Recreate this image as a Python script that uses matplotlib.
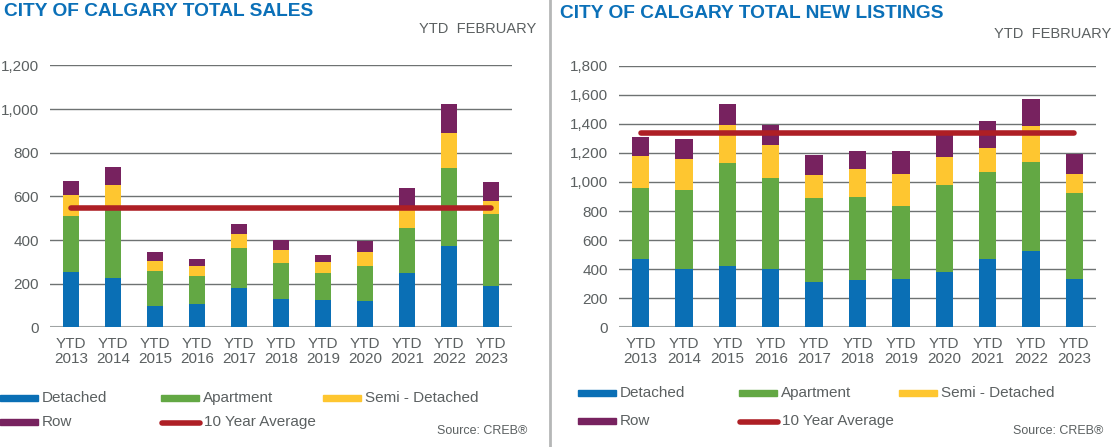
import numpy as np
import matplotlib.pyplot as plt
from matplotlib.patches import Rectangle
from matplotlib.lines import Line2D

plt.rcParams['font.family'] = ['Liberation Sans', 'DejaVu Sans']

years = ['2013', '2014', '2015', '2016', '2017', '2018', '2019', '2020', '2021', '2022', '2023']
xlabels = ['YTD\n' + y for y in years]

# Total sales (YTD February), stacked components
sales_detached = [255, 225, 99, 107, 180, 128, 125, 121, 248, 374, 189]
sales_apartment = [255, 313, 161, 128, 185, 168, 125, 162, 209, 354, 328]
sales_semi = [97, 114, 45, 46, 62, 59, 51, 61, 88, 163, 61]
sales_row = [64, 82, 39, 32, 47, 45, 32, 53, 93, 132, 87]
sales_avg = 546

# Total new listings (YTD February)
list_detached = [470, 404, 424, 399, 314, 326, 335, 383, 470, 528, 331]
list_apartment = [489, 542, 708, 629, 576, 574, 500, 597, 600, 606, 596]
list_semi = [221, 215, 259, 225, 157, 186, 221, 191, 167, 252, 131]
list_row = [128, 134, 147, 142, 140, 130, 160, 159, 182, 186, 135]
list_avg = 1336

C_DET = '#0a6fb5'
C_APT = '#63a844'
C_SEMI = '#fec630'
C_ROW = '#77225f'
C_AVG = '#ae1f25'
C_TXT = '#5b6061'
C_TITLE = '#0b70b8'
C_GRID = '#6e7272'

W, H = 1118, 447
fig = plt.figure(figsize=(W / 100, H / 100), dpi=100)


def box(l, t, r, b):
    return [l / W, 1 - b / H, (r - l) / W, (b - t) / H]


def fx(px):
    return px / W


def fy(py):
    return 1 - py / H


def panel(rect, det, apt, semi, row, avg, ymax, step):
    ax = fig.add_axes(rect)
    x = np.arange(len(years))
    det = np.array(det)
    apt = np.array(apt)
    semi = np.array(semi)
    row = np.array(row)
    w = 0.4
    ax.bar(x, det, w, color=C_DET, zorder=2)
    ax.bar(x, apt, w, bottom=det, color=C_APT, zorder=2)
    ax.bar(x, semi, w, bottom=det + apt, color=C_SEMI, zorder=2)
    ax.bar(x, row, w, bottom=det + apt + semi, color=C_ROW, zorder=2)
    ax.plot([x[0], x[-1]], [avg, avg], color=C_AVG, lw=4, solid_capstyle='round', zorder=3)
    ax.set_xlim(-0.5, len(years) - 0.5)
    ax.set_ylim(0, ymax)
    ticks = np.arange(0, ymax + 1, step)
    ax.set_yticks(ticks)
    ax.set_yticklabels([f'{t:,}' for t in ticks])
    ax.set_xticks(x)
    ax.set_xticklabels(xlabels, linespacing=1.1)
    ax.tick_params(axis='both', length=0, labelsize=11, colors=C_TXT)
    ax.tick_params(axis='y', pad=8)
    ax.tick_params(axis='x', pad=7)
    for s in ax.spines.values():
        s.set_visible(False)
    ax.yaxis.grid(True, color=C_GRID, lw=1)
    ax.set_axisbelow(True)
    ax.axhline(0, color='#a0a4a4', lw=1.5, zorder=1)
    ax.patch.set_alpha(0)
    return ax


panel(box(50, 65.4, 512, 327.3), sales_detached, sales_apartment, sales_semi, sales_row,
      sales_avg, 1200, 200)
panel(box(619, 65.7, 1096, 327.3), list_detached, list_apartment, list_semi, list_row,
      list_avg, 1800, 200)

# titles
fig.text(fx(4), fy(12), 'CITY OF CALGARY TOTAL SALES', color=C_TITLE, fontsize=13.8,
         fontweight='bold', va='center', ha='left')
fig.text(fx(560), fy(14), 'CITY OF CALGARY TOTAL NEW LISTINGS', color=C_TITLE, fontsize=13.8,
         fontweight='bold', va='center', ha='left')
fig.text(fx(536), fy(29), 'YTD  FEBRUARY', color=C_TXT, fontsize=10.5, va='center', ha='right')
fig.text(fx(1111), fy(34), 'YTD  FEBRUARY', color=C_TXT, fontsize=10.5, va='center', ha='right')

# divider
fig.add_artist(Line2D([fx(550), fx(550)], [0, 1], color='#b5b7b7', lw=2))


def legend(y1, y2, xs):
    items = [(xs[0], y1, C_DET, 'Detached'), (xs[1], y1, C_APT, 'Apartment'),
             (xs[2], y1, C_SEMI, 'Semi - Detached'), (xs[0], y2, C_ROW, 'Row')]
    for px, py, c, t in items:
        fig.add_artist(Rectangle((fx(px), fy(py + 3)), 38 / W, 6 / H, color=c,
                                 transform=fig.transFigure))
        fig.text(fx(px + 42), fy(py), t, color=C_TXT, fontsize=11, va='center', ha='left')
    fig.add_artist(Line2D([fx(xs[1] + 1), fx(xs[1] + 39)], [fy(y2 + 1), fy(y2 + 1)], color=C_AVG,
                          lw=4, solid_capstyle='round'))
    fig.text(fx(xs[1] + 43), fy(y2), '10 Year Average', color=C_TXT, fontsize=11, va='center',
             ha='left')


legend(398, 422, [0, 161, 323])
legend(393, 421, [578, 739, 899])

fig.text(fx(527), fy(431), 'Source: CREB®', color=C_TXT, fontsize=9, va='center', ha='right')
fig.text(fx(1103), fy(431), 'Source: CREB®', color=C_TXT, fontsize=9, va='center', ha='right')

fig.savefig('out.png', dpi=100)
